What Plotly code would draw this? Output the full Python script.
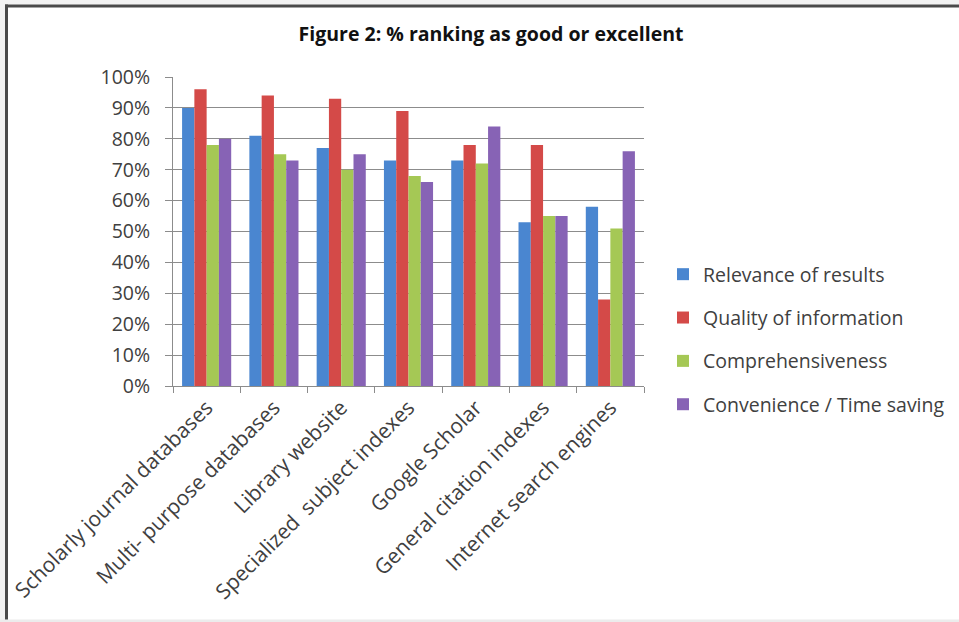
import plotly.graph_objects as go

categories = [
    "Scholarly journal databases",
    "Multi- purpose databases",
    "Library website",
    "Specialized  subject indexes",
    "Google Scholar",
    "General citation indexes",
    "Internet search engines",
]
relevance = [90, 81, 77, 73, 73, 53, 58]
quality = [96, 94, 93, 89, 78, 78, 28]
comprehensiveness = [78, 75, 70, 68, 72, 55, 51]
convenience = [80, 73, 75, 66, 84, 55, 76]

series_names = [
    "Relevance of results",
    "Quality of information",
    "Comprehensiveness",
    "Convenience / Time saving",
]
series_values = [relevance, quality, comprehensiveness, convenience]
series_colors = ["#4a86d0", "#d44a48", "#a5c855", "#8763b5"]

W, H = 959, 622
M_L, M_R, M_T, M_B = 173, 315, 77, 236
PW, PH = W - M_L - M_R, H - M_T - M_B

FONT = "Open Sans"
TXT = "#404040"


def px_x(x):
    return (x - M_L) / PW


def px_y(y):
    return (H - M_B - y) / PH


fig = go.Figure()
for i, (name, vals, col) in enumerate(zip(series_names, series_values, series_colors)):
    fig.add_trace(go.Bar(
        x=categories, y=vals, name=name, marker_color=col,
        marker_line_width=0, legendgroup=f"g{i}",
    ))

shapes = [
    # outer light margin strips
    dict(type="rect", xref="paper", yref="paper", x0=px_x(0), x1=px_x(W),
         y0=px_y(0), y1=px_y(4.5), fillcolor="#f2f2f2", line_width=0, layer="below"),
    dict(type="rect", xref="paper", yref="paper", x0=px_x(0), x1=px_x(5),
         y0=px_y(0), y1=px_y(H), fillcolor="#f2f2f2", line_width=0, layer="below"),
    dict(type="rect", xref="paper", yref="paper", x0=px_x(0), x1=px_x(W),
         y0=px_y(619.5), y1=px_y(H), fillcolor="#ececec", line_width=0, layer="below"),
    # dark frame lines
    dict(type="rect", xref="paper", yref="paper", x0=px_x(5), x1=px_x(W),
         y0=px_y(4.5), y1=px_y(7.5), fillcolor="#4a4a4a", line_width=0),
    dict(type="rect", xref="paper", yref="paper", x0=px_x(5), x1=px_x(8),
         y0=px_y(4.5), y1=px_y(619.5), fillcolor="#4a4a4a", line_width=0),
]

fig.update_layout(
    width=W, height=H,
    margin=dict(l=M_L, r=M_R, t=M_T, b=M_B, pad=0, autoexpand=False),
    paper_bgcolor="white", plot_bgcolor="white",
    font=dict(family=FONT, size=19, color=TXT),
    title=dict(
        text="<b>Figure 2: % ranking as good or excellent</b>",
        x=491 / W, xref="container", xanchor="center",
        y=1 - 34 / H, yref="container", yanchor="middle",
        font=dict(family=FONT, size=19.5, color="#111111"),
    ),
    barmode="group", bargap=0.27, bargroupgap=0,
    showlegend=True,
    legend=dict(
        x=px_x(663), xanchor="left", y=px_y(255), yanchor="top",
        font=dict(family=FONT, size=19.5, color=TXT),
        tracegroupgap=15, bgcolor="rgba(0,0,0,0)",
        itemsizing="constant",
    ),
    shapes=shapes,
)

fig.update_yaxes(
    range=[0, 100], dtick=10, ticksuffix="%",
    showgrid=True, gridcolor="#8c8c8c", gridwidth=1,
    showline=True, linecolor="#8c8c8c", linewidth=1,
    ticks="outside", ticklen=7, tickcolor="#8c8c8c",
    tickfont=dict(family=FONT, size=19.5, color=TXT),
    ticklabelstandoff=11, zeroline=False, fixedrange=True,
)
fig.update_xaxes(
    type="category", tickangle=-45,
    showline=True, linecolor="#8c8c8c", linewidth=1,
    ticks="outside", ticklen=6, tickcolor="#8c8c8c", tickson="boundaries",
    tickfont=dict(family=FONT, size=21, color=TXT),
    showgrid=False, fixedrange=True,
)

fig.write_html("out.html")
